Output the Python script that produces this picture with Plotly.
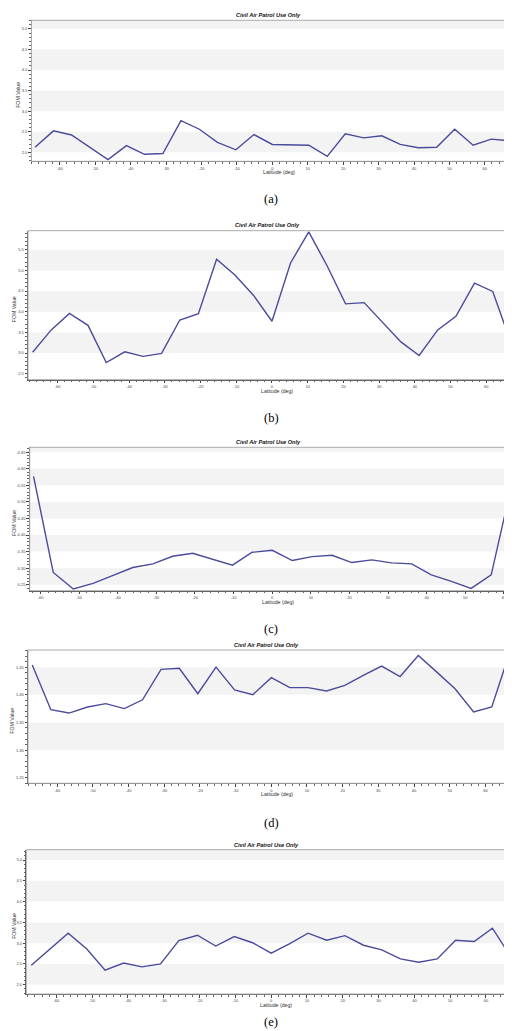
import plotly.graph_objects as go

W, H = 512, 1031

# ---------------- data ----------------
lat27 = [-67, -61.8, -56.7, -51.5, -46.4, -41.2, -36.1, -30.9, -25.8, -20.6, -15.5, -10.3, -5.2,
         0, 5.2, 10.3, 15.5, 20.6, 25.8, 30.9, 36.1, 41.2, 46.4, 51.5, 56.7, 61.8, 67]
lat25 = [-61.8, -56.7, -51.5, -46.4, -41.2, -36.1, -30.9, -25.8, -20.6, -15.5, -10.3, -5.2,
         0, 5.2, 10.3, 15.5, 20.6, 25.8, 30.9, 36.1, 41.2, 46.4, 51.5, 56.7, 61.8]

fom_a = [2.12, 2.52, 2.42, 2.12, 1.82, 2.16, 1.95, 1.97, 2.77, 2.56, 2.24, 2.06, 2.43,
         2.19, 2.18, 2.17, 1.90, 2.45, 2.35, 2.40, 2.19, 2.11, 2.12, 2.56, 2.17, 2.32, 2.28]
fom_b = [3.02, 3.56, 3.96, 3.67, 2.77, 3.03, 2.92, 2.99, 3.80, 3.95, 5.27, 4.88, 4.40,
         3.77, 5.18, 5.93, 5.10, 4.19, 4.22, 3.75, 3.27, 2.94, 3.56, 3.89, 4.69, 4.49, 3.23]
fom_c = [0.577, 0.287, 0.237, 0.254, 0.278, 0.302, 0.313, 0.336, 0.345, 0.328, 0.309, 0.348,
         0.354, 0.323, 0.335, 0.339, 0.317, 0.325, 0.316, 0.313, 0.280, 0.260, 0.239, 0.280, 0.542]
fom_d = [1.454, 1.373, 1.367, 1.378, 1.384, 1.375, 1.391, 1.446, 1.448, 1.402, 1.450, 1.409, 1.400,
         1.431, 1.413, 1.413, 1.407, 1.417, 1.435, 1.452, 1.433, 1.471, 1.441, 1.411, 1.369, 1.378, 1.480]
fom_e = [2.47, 2.86, 3.24, 2.86, 2.35, 2.52, 2.43, 2.50, 3.06, 3.19, 2.93, 3.16, 3.01,
         2.76, 2.99, 3.24, 3.07, 3.18, 2.95, 2.84, 2.62, 2.54, 2.62, 3.07, 3.04, 3.36, 2.66]

x_ticks = [-60, -50, -40, -30, -20, -10, 0, 10, 20, 30, 40, 50, 60]
y_ticks_a = [2.0, 2.5, 3.0, 3.5, 4.0, 4.5, 5.0]
y_ticks_b = [2.5, 3.0, 3.5, 4.0, 4.5, 5.0, 5.5]
y_ticks_c = [0.25, 0.30, 0.35, 0.40, 0.45, 0.50, 0.55, 0.60, 0.65]
y_ticks_d = [1.25, 1.30, 1.35, 1.40, 1.45]
y_ticks_e = [2.0, 2.5, 3.0, 3.5, 4.0, 4.5, 5.0]

title_text = "Civil Air Patrol Use Only"
x_title = "Latitude (deg)"
y_title = "FOM Value"
panel_labels = ["(a)", "(b)", "(c)", "(d)", "(e)"]

# ---------------- layout geometry (pixels) ----------------
panels = [
    dict(x=lat27, y=fom_a, yt=y_ticks_a, fmt=".1f", px=(23.5, 508), py=(12.3, 153.3),
         xr=[-68.0, 68.8], yr=[1.78, 5.21], band_lo=[2.0, 3.0, 4.0, 5.0], bw=0.5, mdt=0.1,
         lab_y=191, ytx=10),
    dict(x=lat27, y=fom_b, yt=y_ticks_b, fmt=".1f", px=(20, 508.3), py=(222.7, 371.7),
         xr=[-68.3, 68.4], yr=[2.355, 5.96], band_lo=[3.0, 4.0, 5.0], bw=0.5, mdt=0.1,
         lab_y=410, ytx=6),
    dict(x=lat25, y=fom_c, yt=y_ticks_c, fmt=".2f", px=(21.7, 508.3), py=(439.3, 582.7),
         xr=[-62.8, 63.2], yr=[0.232, 0.665], band_lo=[0.25, 0.35, 0.45, 0.55, 0.65], bw=0.05,
         mdt=0.01, lab_y=621, ytx=6),
    dict(x=lat27, y=fom_d, yt=y_ticks_d, fmt=".2f", px=(20, 507.7), py=(642, 775.3),
         xr=[-68.2, 68.5], yr=[1.240, 1.481], band_lo=[1.30, 1.40], bw=0.05, mdt=0.01,
         lab_y=815, ytx=4),
    dict(x=lat27, y=fom_e, yt=y_ticks_e, fmt=".1f", px=(18.3, 507.7), py=(841.7, 986),
         xr=[-68.4, 68.3], yr=[1.776, 5.25], band_lo=[2.0, 3.0, 4.0, 5.0], bw=0.5, mdt=0.1,
         lab_y=1014, ytx=6),
]

LINE = "#4b4b9c"
BAND = "#f3f3f3"
FONT = "Liberation Sans"

fig = go.Figure()
shapes = []
annotations = []
layout = {}

for i, p in enumerate(panels):
    n = "" if i == 0 else str(i + 1)
    xa, ya = "x" + n, "y" + n
    fig.add_trace(go.Scatter(x=p["x"], y=p["y"], mode="lines", xaxis=xa, yaxis=ya,
                             line=dict(color=LINE, width=1.4), showlegend=False))
    xd = [p["px"][0] / W, p["px"][1] / W]
    yd = [1 - p["py"][1] / H, 1 - p["py"][0] / H]
    tick_font = dict(family=FONT, size=4, color="#444444")
    layout["xaxis" + n] = dict(
        domain=xd, range=p["xr"], anchor=ya, tickmode="array", tickvals=x_ticks,
        ticktext=[str(v) for v in x_ticks], ticks="outside", ticklen=2.5, tickwidth=0.8,
        tickcolor="#444", showgrid=False, zeroline=False, showline=True, linecolor="#555",
        linewidth=1, tickfont=tick_font,
        minor=dict(dtick=2, tick0=0, ticks="outside", ticklen=1.6, tickcolor="#666", showgrid=False),
    )
    layout["yaxis" + n] = dict(
        domain=yd, range=p["yr"], anchor=xa, tickmode="array", tickvals=p["yt"],
        ticktext=[format(v, p["fmt"]) for v in p["yt"]], ticks="outside", ticklen=2.5,
        tickwidth=0.8, tickcolor="#444", showgrid=False, zeroline=False, showline=True,
        linecolor="#555", linewidth=1, tickfont=tick_font,
        minor=dict(dtick=p["mdt"], tick0=0, ticks="outside", ticklen=1.6, tickcolor="#666",
                   showgrid=False),
    )
    # alternating bands
    for lo in p["band_lo"]:
        hi = min(lo + p["bw"], p["yr"][1])
        shapes.append(dict(type="rect", xref=xa + " domain", yref=ya, x0=0, x1=1, y0=lo, y1=hi,
                           fillcolor=BAND, line=dict(width=0), layer="below"))
    # light frame (top/right)
    shapes.append(dict(type="rect", xref=xa + " domain", yref=ya + " domain", x0=0, x1=1, y0=0, y1=1,
                       line=dict(color="#aaaaaa", width=1), fillcolor="rgba(0,0,0,0)", layer="above"))
    cx = (xd[0] + xd[1]) / 2
    # title
    annotations.append(dict(text="<b><i>" + title_text + "</i></b>", x=cx - 5 / W, y=1 - (p["py"][0] - 5.2) / H,
                            xref="paper", yref="paper", showarrow=False,
                            font=dict(family=FONT, size=5.6, color="#111"), xanchor="center", yanchor="middle"))
    # x-axis title
    annotations.append(dict(text=x_title, x=cx + 5 / W, y=1 - (p["py"][1] + 11) / H, xref="paper", yref="paper",
                            showarrow=False, font=dict(family=FONT, size=5.2, color="#333"),
                            xanchor="center", yanchor="middle"))
    # y-axis title
    annotations.append(dict(text=y_title, x=p["ytx"] / W, y=1 - ((p["py"][0] + p["py"][1]) / 2 + 4) / H,
                            xref="paper", yref="paper", showarrow=False, textangle=-90,
                            font=dict(family=FONT, size=5.2, color="#333"),
                            xanchor="center", yanchor="middle"))
    # panel label
    annotations.append(dict(text=panel_labels[i], x=263 / W, y=1 - p["lab_y"] / H, xref="paper", yref="paper",
                            showarrow=False, font=dict(family="Liberation Serif", size=12.5, color="#000"),
                            xanchor="center", yanchor="middle"))

fig.update_layout(width=W, height=H, margin=dict(l=0, r=0, t=0, b=0), paper_bgcolor="white",
                  plot_bgcolor="white", shapes=shapes, annotations=annotations, **layout)

fig.write_html("out.html")
